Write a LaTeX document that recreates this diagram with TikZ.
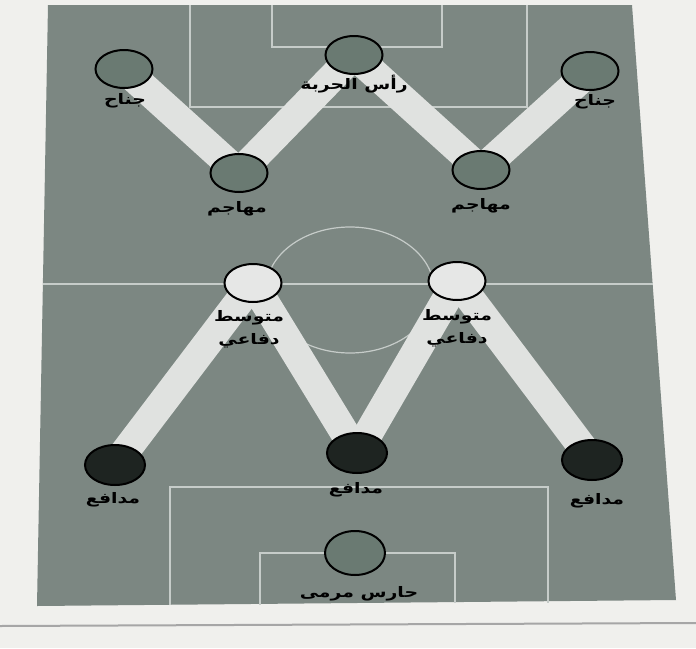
\documentclass[tikz,border=0pt]{standalone}
\usepackage{fontspec}
\newfontfamily\arabicfont[Script=Arabic,FakeStretch=1.3]{DejaVu Sans}
\TeXXeTstate=1
\usetikzlibrary{shapes.geometric,backgrounds}
\pgfdeclarelayer{pitch}
\pgfsetlayers{pitch,background,main}
\newcommand{\artxt}[1]{\beginR #1\endR}

\definecolor{paper}{RGB}{240,240,237}
\definecolor{grass}{RGB}{124,135,130}
\definecolor{fwdgray}{RGB}{106,122,114}
\definecolor{midwhite}{RGB}{230,231,230}
\definecolor{backdark}{RGB}{30,36,33}
\definecolor{bandgray}{RGB}{224,226,224}
\definecolor{chalk}{RGB}{198,204,201}

\begin{document}
\begin{tikzpicture}[x=1pt,y=-1pt,
    player/.style={draw=black, line width=2pt, ellipse, minimum width=57pt, minimum height=38pt, inner sep=0pt},
    fwdp/.style={player, fill=fwdgray},
    midp/.style={player, fill=midwhite},
    backp/.style={player, fill=backdark},
    tag/.style={font=\arabicfont\bfseries\fontsize{14.5}{16}\selectfont, inner sep=1pt, align=center},
    link/.style={draw=bandgray, line width=29pt},
    chalkline/.style={draw=chalk, line width=1.2pt}
]
\useasboundingbox (0,0) rectangle (696,648);

% pitch
\begin{pgfonlayer}{pitch}
\fill[paper] (0,0) rectangle (696,648);
\draw[gray!70, line width=2pt] (0,626) -- (696,623);
\fill[grass] (48,5) -- (632,5) -- (676,600) -- (37,606) -- cycle;
\draw[chalkline] (190,5) -- (190,107) -- (527,107) -- (527,5);
\draw[chalkline] (272,5) -- (272,47) -- (442,47) -- (442,5);
\draw[chalkline] (43,284) -- (653,284);
\draw[chalkline] (350,290) ellipse [x radius=84, y radius=63];
\draw[chalkline] (170,605) -- (170,487) -- (548,487) -- (548,603);
\draw[chalkline] (260,605) -- (260,553) -- (455,553) -- (455,603);
\end{pgfonlayer}

% players
\node[fwdp] (lwing) at (124,69) {};
\node[fwdp] (striker) at (354,55) {};
\node[fwdp] (rwing) at (590,71) {};
\node[fwdp] (latt) at (239,173) {};
\node[fwdp] (ratt) at (481,170) {};
\node[midp] (ldm) at (253,283) {};
\node[midp] (rdm) at (457,281) {};
\node[backp, minimum width=60pt, minimum height=40pt] (ldef) at (115,465) {};
\node[backp, minimum width=60pt, minimum height=40pt] (cdef) at (357,453) {};
\node[backp, minimum width=60pt, minimum height=40pt] (rdef) at (592,460) {};
\node[fwdp, minimum width=60pt, minimum height=44pt] (gk) at (355,553) {};

% names
\node[tag] (lwingt) at (125,101) {\artxt{جناح}};
\node[tag] (strikert) at (354,84) {\artxt{رأس الحربة}};
\node[tag] (rwingt) at (595,102) {\artxt{جناح}};
\node[tag] (lattt) at (237,209) {\artxt{مهاجم}};
\node[tag] (rattt) at (481,206) {\artxt{مهاجم}};
\node[tag] (ldmt) at (249,329) {\artxt{متوسط}\\[7pt]\artxt{دفاعي}};
\node[tag] (rdmt) at (457,328) {\artxt{متوسط}\\[7pt]\artxt{دفاعي}};
\node[tag] (ldeft) at (113,500) {\artxt{مدافع}};
\node[tag] (cdeft) at (356,490) {\artxt{مدافع}};
\node[tag] (rdeft) at (597,501) {\artxt{مدافع}};
\node[tag] (gkt) at (359,594) {\artxt{حارس مرمى}};

% bands
\begin{scope}[on background layer]
\draw[link] (lwing.center) -- (latt.center);
\draw[link] (latt.center) -- (striker.center);
\draw[link] (striker.center) -- (ratt.center);
\draw[link] (ratt.center) -- (rwing.center);
\draw[link] (ldef.center) -- (ldm.center);
\draw[link] (ldm.center) -- (cdef.center);
\draw[link] (cdef.center) -- (rdm.center);
\draw[link] (rdm.center) -- (rdef.center);
\end{scope}
\end{tikzpicture}
\end{document}
